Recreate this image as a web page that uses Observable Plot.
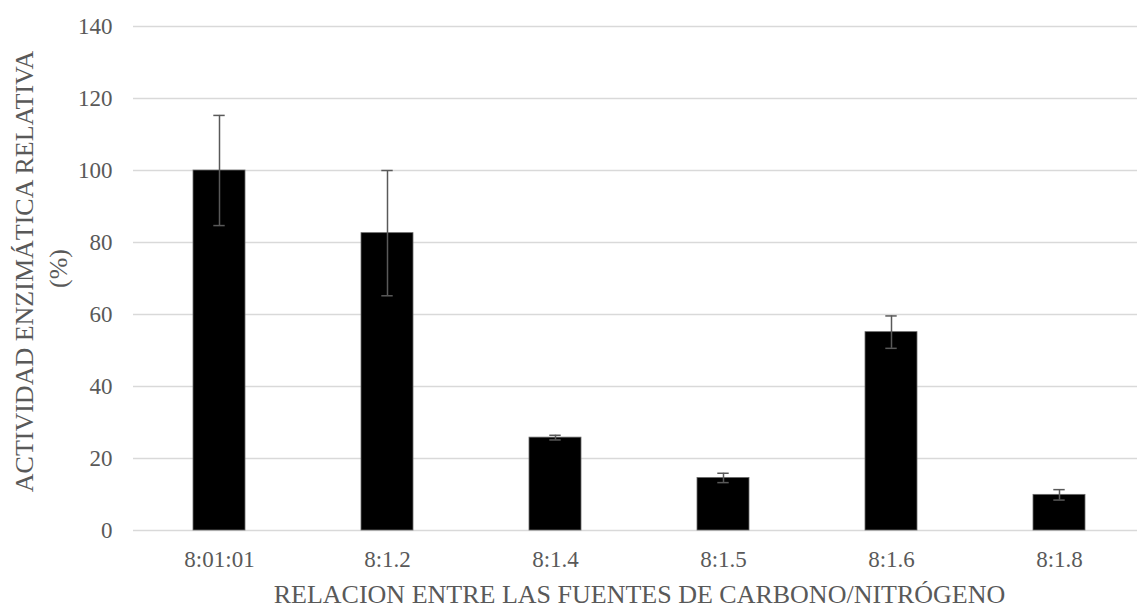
<!DOCTYPE html>
<html>
<head>
<meta charset="utf-8">
<script src="https://cdn.jsdelivr.net/npm/d3@7"></script>
<script src="https://cdn.jsdelivr.net/npm/@observablehq/plot@0.6"></script>
<style>
  html, body { margin: 0; padding: 0; background: #ffffff; }
  #chart svg { display: block; }
  #chart svg text { font-family: 'Liberation Serif', 'Times New Roman', serif; }
</style>
</head>
<body>
<div id="chart"></div>
<script>
// C/N source ratios tested
const categories = ["8:01:01", "8:1.2", "8:1.4", "8:1.5", "8:1.6", "8:1.8"];
// Relative enzymatic activity (%)
const activity = [100, 82.6, 25.8, 14.6, 55.1, 9.9];
// Error (± deviation)
const deviation = [15.3, 17.4, 0.65, 1.3, 4.5, 1.45];
// Y-axis ticks
const yTicks = [0, 20, 40, 60, 80, 100, 120, 140];

const xTitle = "RELACION ENTRE LAS FUENTES DE CARBONO/NITRÓGENO";
const yTitleLines = ["ACTIVIDAD ENZIMÁTICA RELATIVA", "(%)"];

const rows = categories.map((c, i) => ({
  ratio: c,
  value: activity[i],
  lo: activity[i] - deviation[i],
  hi: activity[i] + deviation[i]
}));

const grey = "#595959";
const serif = "'Liberation Serif', 'Times New Roman', serif";

const chart = Plot.plot({
  width: 1137,
  height: 607,
  marginLeft: 133,
  marginRight: 0,
  marginTop: 26,
  marginBottom: 77,
  style: {
    fontFamily: serif,
    fontSize: "23px",
    color: grey,
    background: "#ffffff"
  },
  x: { domain: categories, range: [133, 1146], paddingInner: 0.688, paddingOuter: 0.344 },
  y: { domain: [0, 140] },
  marks: [
    Plot.ruleY(yTicks, { stroke: "#d9d9d9", strokeWidth: 1.5 }),
    Plot.barY(rows, { x: "ratio", y: "value", fill: "#000000", stroke: "#6a6a6a", strokeWidth: 0.8 }),
    Plot.ruleX(rows, { x: "ratio", y1: "lo", y2: "hi", stroke: grey, strokeWidth: 1.5 }),
    Plot.tickY(rows, { x: "ratio", y: "lo", stroke: grey, strokeWidth: 1.5, inset: 20.3 }),
    Plot.tickY(rows, { x: "ratio", y: "hi", stroke: grey, strokeWidth: 1.5, inset: 20.3 }),
    Plot.axisY({ ticks: yTicks, tickSize: 0, tickPadding: 21, label: null, fontFamily: serif, fontSize: 23, fill: grey }),
    Plot.axisX({ tickSize: 0, tickPadding: 20, label: null, fontFamily: serif, fontSize: 23, fill: grey }),
    // x-axis title
    Plot.text([xTitle], {
      frameAnchor: "bottom", lineAnchor: "bottom", dx: 4, dy: 72,
      fontFamily: serif, fontSize: 26, fill: grey
    }),
    // y-axis title (two lines)
    Plot.text([yTitleLines[0]], {
      frameAnchor: "left", rotate: -90, lineAnchor: "bottom", textAnchor: "middle",
      dx: -100.5, dy: -7, fontFamily: serif, fontSize: 26, fill: grey
    }),
    Plot.text([yTitleLines[1]], {
      frameAnchor: "left", rotate: -90, lineAnchor: "bottom", textAnchor: "middle",
      dx: -67, dy: -10, fontFamily: serif, fontSize: 26, fill: grey
    })
  ]
});

document.getElementById("chart").appendChild(chart);
</script>
</body>
</html>
